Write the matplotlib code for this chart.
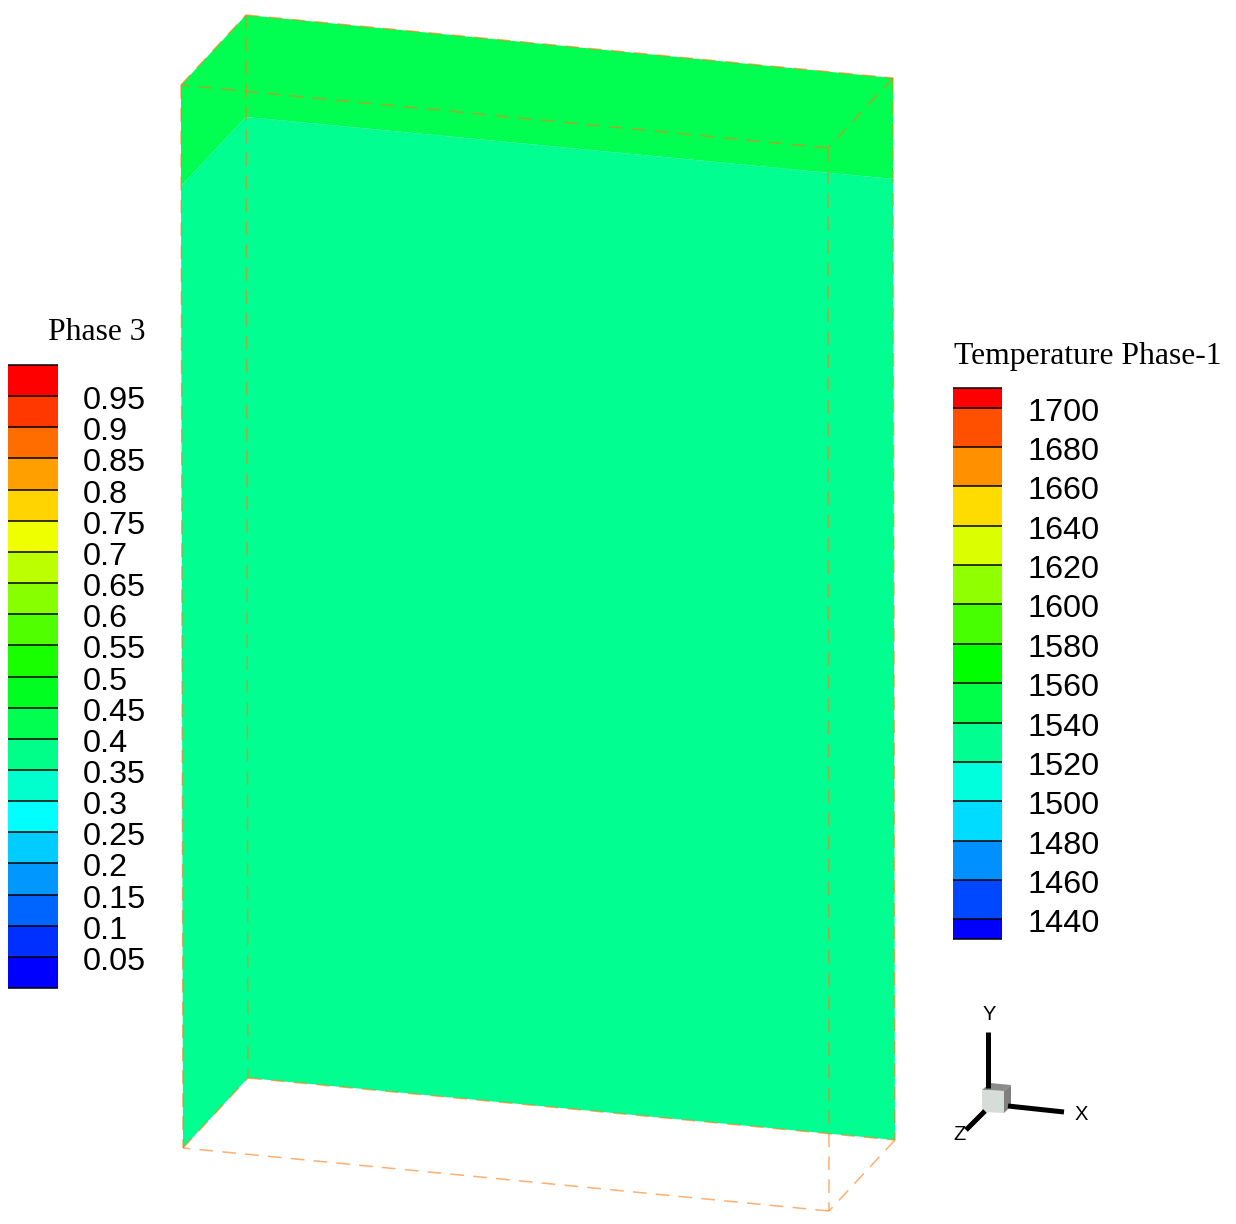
import numpy as np
import matplotlib
matplotlib.use("Agg")
import matplotlib.pyplot as plt
from matplotlib.colors import ListedColormap, BoundaryNorm

W, H = 1236, 1224

# box corners in pixels
top_front_left = (181, 85)
top_back_left = (246, 15)
top_back_right = (893, 78)
top_front_right = (828, 148)
bot_front_left = (183, 1148)
bot_back_left = (248, 1078)
bot_back_right = (895, 1140)
bot_front_right = (829, 1211)

# where the contour band changes on the walls
band_left = (181, 186)
band_back = (246, 117)
band_right = (893, 179)

# legend 1
phase_levels = [0.05, 0.1, 0.15, 0.2, 0.25, 0.3, 0.35, 0.4, 0.45, 0.5,
                0.55, 0.6, 0.65, 0.7, 0.75, 0.8, 0.85, 0.9, 0.95]
phase_labels = ["0.05", "0.1", "0.15", "0.2", "0.25", "0.3", "0.35", "0.4", "0.45", "0.5",
                "0.55", "0.6", "0.65", "0.7", "0.75", "0.8", "0.85", "0.9", "0.95"]
phase_colors = ["#0000ff", "#0030ff", "#0064ff", "#0098ff", "#00ccff", "#00ffff",
                "#00ffcc", "#00ff88", "#00ff50", "#00ff20", "#18ff00", "#50ff00",
                "#88ff00", "#bcff00", "#f0ff00", "#ffd400", "#ffa000", "#ff6c00",
                "#ff3800", "#ff0000"]

# legend 2
temp_levels = [1440, 1460, 1480, 1500, 1520, 1540, 1560, 1580, 1600, 1620,
               1640, 1660, 1680, 1700]
temp_colors = ["#0000ff", "#0048ff", "#0090ff", "#00dcff", "#00ffdc", "#00ff90",
               "#00ff48", "#00ff00", "#48ff00", "#90ff00", "#dcff00", "#ffdc00",
               "#ff9000", "#ff5000", "#ff0000"]

wall_upper = "#00ff50"
wall_lower = "#00ff90"
dash_color = "#ff7a10"


def poly(ax, pts, color):
    xs = [p[0] for p in pts]
    ys = [p[1] for p in pts]
    ax.fill(xs, ys, color=color, lw=0)


def edge(ax, a, b):
    ax.plot([a[0], b[0]], [a[1], b[1]], color=dash_color, lw=1.1, alpha=0.6,
            dashes=(9, 6), solid_capstyle="butt")


def legend(fig, left, top, width, height, levels, labels, colors, lo, hi,
           title, title_x, title_y, ha, label_dx):
    ax = fig.add_axes([left / W, 1 - (top + height) / H, width / W, height / H])
    bounds = [lo] + list(levels) + [hi]
    cmap = ListedColormap(colors)
    norm = BoundaryNorm(bounds, cmap.N)
    ax.pcolormesh([0, 1], bounds, np.array(levels + [hi]).reshape(-1, 1) - 1e-6,
                  cmap=cmap, norm=norm)
    ax.hlines(bounds, 0, 1, color="black", lw=1.1, clip_on=False)
    ax.set_xlim(0, 1)
    ax.set_ylim(lo, hi)
    ax.set_xticks([])
    ax.set_yticks([])
    for s in ax.spines.values():
        s.set_visible(False)
    for v, t in zip(levels, labels):
        ax.annotate(t, xy=(1, v), xycoords=("axes fraction", "data"),
                    xytext=(label_dx * 0.72, -5 * 0.72), textcoords="offset points",
                    va="center", ha="left", fontsize=23.3, color="black",
                    family="Liberation Sans")
    fig.text(title_x / W, 1 - title_y / H, title, ha=ha, va="center",
             fontsize=22.8, family="Liberation Serif", color="black")


fig = plt.figure(figsize=(W / 100, H / 100), dpi=100)
ax = fig.add_axes([0, 0, 1, 1])
ax.set_xlim(0, W)
ax.set_ylim(H, 0)
ax.axis("off")

poly(ax, [top_front_left, top_back_left, top_back_right, band_right, band_back, band_left],
     wall_upper)
poly(ax, [band_left, band_back, band_right, bot_back_right, bot_back_left, bot_front_left],
     wall_lower)

for a, b in [(top_front_left, top_back_left), (top_back_left, top_back_right),
             (top_back_right, top_front_right), (top_front_right, top_front_left),
             (bot_front_left, bot_back_left), (bot_back_left, bot_back_right),
             (bot_back_right, bot_front_right), (bot_front_right, bot_front_left),
             (top_front_left, bot_front_left), (top_back_left, bot_back_left),
             (top_back_right, bot_back_right), (top_front_right, bot_front_right)]:
    edge(ax, a, b)

# axis triad
ax.plot([988, 988], [1032, 1088], color="black", lw=3.6, solid_capstyle="butt")
ax.plot([1008, 1064], [1106, 1112], color="black", lw=3.6, solid_capstyle="butt")
ax.plot([985, 966], [1111, 1130], color="black", lw=3.6, solid_capstyle="butt")
poly(ax, [(982, 1090), (990, 1083), (1011, 1085), (1004, 1091)], "#8c8c8c")
poly(ax, [(1004, 1091), (1011, 1085), (1011, 1106), (1004, 1113)], "#7f7f7f")
poly(ax, [(982, 1090), (1004, 1091), (1004, 1113), (982, 1112)], "#d6dcd8")
ax.text(989, 1015, "Y", ha="center", va="center", fontsize=14.5, family="Liberation Sans")
ax.text(1081, 1114, "X", ha="center", va="center", fontsize=14.5, family="Liberation Sans")
ax.text(960, 1135, "Z", ha="center", va="center", fontsize=14.5, family="Liberation Sans")

legend(fig, 8, 365, 50, 623, phase_levels, phase_labels, phase_colors, 0.0, 1.0,
       "Phase 3", 145, 333, "right", 25)
legend(fig, 953, 388, 49, 551, temp_levels, [str(v) for v in temp_levels], temp_colors,
       1430, 1710, "Temperature Phase-1", 954, 356, "left", 26)

fig.savefig("out.png", dpi=100)
